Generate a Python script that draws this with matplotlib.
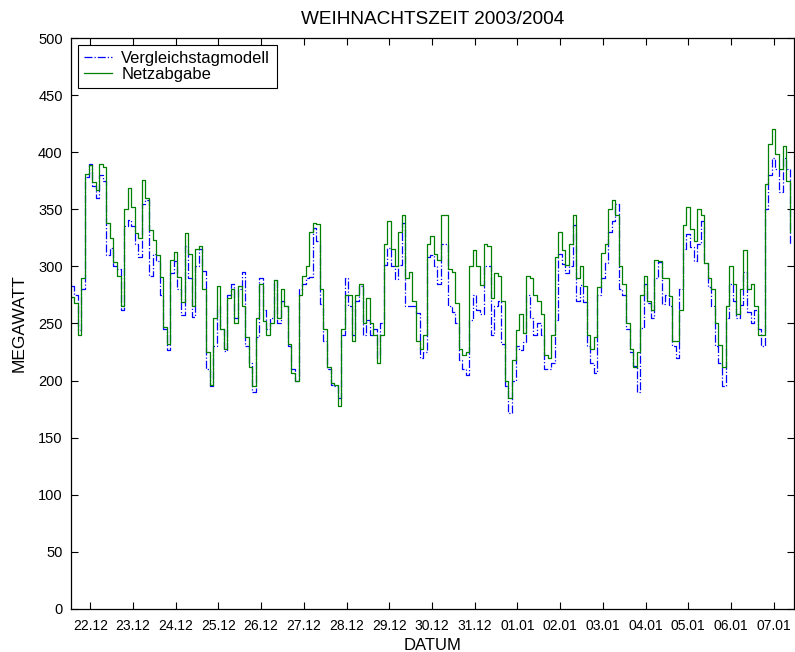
import numpy as np
import matplotlib
matplotlib.use('Agg')
import matplotlib.pyplot as plt

plt.rcParams['font.family'] = ['Liberation Sans', 'DejaVu Sans']

# two-hourly values (MW), first slot starts 21.12 13:00
netzabgabe = [
    273, 268, 240, 290, 381, 389, 374, 367, 390, 387, 338, 325, 304, 292, 265, 350,
    369, 352, 329, 325, 376, 360, 332, 323, 310, 291, 247, 232, 306, 313, 291, 269,
    329, 311,
    265, 315, 318, 280, 225, 196, 255, 283, 245, 228, 272, 280, 250, 283, 265, 238,
    212, 195, 255, 285, 252, 240, 250, 288, 255, 280, 265, 232, 207, 200, 275, 292,
    300, 330,
    338, 337, 280, 245, 212, 198, 196, 178, 245, 275, 275, 235, 275, 285, 250, 272,
    250, 240, 215, 240, 320, 340, 315, 300, 330, 345, 290, 295, 270, 235, 228, 240,
    320,
    327, 311, 306, 345, 345, 298, 295, 268, 228, 222, 225, 300, 314, 300, 284, 320,
    318, 272, 294, 292, 270, 200, 185, 218, 244, 258, 242, 292, 290, 275, 270, 258,
    222,
    220, 240, 308, 330, 314, 301, 320, 345, 290, 300, 283, 240, 228, 238, 282, 312,
    320, 350, 358, 345, 300, 285, 250, 228, 212, 225, 275, 292, 270, 262, 306, 305,
    290, 290,
    274, 235, 235, 262, 336, 352, 333, 322, 350, 345, 303, 290, 280, 250, 231, 212,
    265, 300, 285, 258, 280, 314, 280, 285, 265, 240, 240, 372, 407, 420, 398, 385,
    405, 375, 330,
]

vergleichstag = [
    283, 275, 244, 280, 378, 390, 370, 360, 380, 375, 310, 316, 300, 298, 262, 335,
    341, 335, 320, 308, 355, 358, 292, 311, 305, 275, 245, 227, 294, 305, 280, 257,
    318, 290,
    256, 300, 315, 296, 210, 195, 230, 265, 245, 226, 275, 285, 255, 280, 295, 230,
    215, 190, 238, 290, 262, 245, 255, 288, 250, 270, 265, 230, 210, 200, 280, 285,
    290, 291,
    334, 322, 267, 235, 210, 196, 195, 185, 240, 290, 265, 240, 270, 283, 240, 253,
    240, 245, 220, 250, 301, 316, 300, 289, 301, 338, 265, 265, 265, 259, 220, 225,
    308,
    310, 300, 285, 320, 320, 265, 260, 250, 218, 210, 205, 253, 275, 262, 258, 300,
    300, 240, 265, 270, 232, 195, 172, 200, 230, 227, 234, 275, 255, 240, 250, 240,
    210,
    210, 215, 253, 311, 302, 294, 300, 336, 270, 284, 269, 230, 215, 207, 275, 290,
    303, 330, 340, 355, 280, 275, 245, 225, 213, 190, 246, 285, 268, 255, 290, 304,
    267, 275,
    265, 230, 220, 280, 315, 328, 317, 305, 320, 340, 303, 282, 265, 230, 215, 195,
    255, 285, 270, 255, 266, 295, 260, 250, 262, 245, 230, 350, 380, 395, 385, 365,
    395, 385, 320,
]

tick_labels = ['22.12', '23.12', '24.12', '25.12', '26.12', '27.12', '28.12', '29.12',
               '30.12', '31.12', '01.01', '02.01', '03.01', '04.01', '05.01', '06.01', '07.01']

# time axis in days relative to 22.12 00:00
t = (-11 + 2 * np.arange(len(netzabgabe))) / 24.0

fig = plt.figure(figsize=(7.95, 6.52), dpi=100)
ax = fig.add_axes([0.0893, 0.066, 0.9100, 0.8757])

ax.plot(t, vergleichstag, '-.', color='#0000ff', lw=0.9, drawstyle='steps-post',
        label='Vergleichstagmodell')
ax.plot(t, netzabgabe, '-', color='#008000', lw=0.9, drawstyle='steps-post',
        label='Netzabgabe')

ax.set_xlim(-0.452, 16.487)
ax.set_ylim(0, 500)
ax.set_yticks(np.arange(0, 501, 50))
ax.set_xticks(np.arange(len(tick_labels)))
ax.set_xticklabels(tick_labels)

ax.tick_params(direction='in', length=5, width=0.8, top=True, right=True,
               labelsize=10.5, pad=6)
ax.tick_params('x', labelsize=10, pad=7)
for s in ax.spines.values():
    s.set_linewidth(0.9)

ax.set_title('WEIHNACHTSZEIT 2003/2004', fontsize=13.7, pad=10)
ax.set_xlabel('DATUM', fontsize=12, labelpad=4)
ax.set_ylabel('MEGAWATT', fontsize=12.5, labelpad=8)

leg = ax.legend(loc='upper left', fontsize=11.9, fancybox=False, framealpha=1,
                edgecolor='k', borderaxespad=0.42, handlelength=1.7,
                handletextpad=0.55, borderpad=0.38, labelspacing=0.05)
leg.get_frame().set_linewidth(0.8)

plt.savefig('out.png', dpi=100)
